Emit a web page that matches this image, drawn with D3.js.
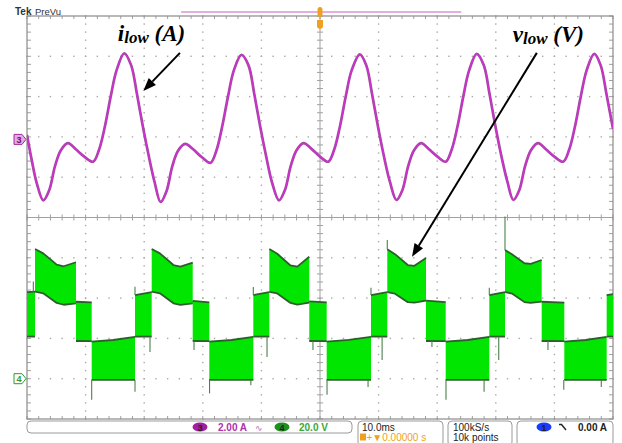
<!DOCTYPE html>
<html><head><meta charset="utf-8">
<script src="https://cdn.jsdelivr.net/npm/d3@7"></script>
<style>
html,body{margin:0;padding:0;background:#fff;}
svg{display:block;}
</style></head>
<body><svg id="c" width="622" height="443"></svg>
<script>
// ---------------- data (time in ms from left edge of screen) ----------------
// channel 3: low-side current i_low (A)
const iTime = [0, 0.8, 1.65,
  2.78, 3.78, 4.78, 5.78, 6.98, 8.28, 9.78, 11.28, 12.28, 13.28, 14.28, 15.28, 16.6, 17.78, 18.78, 19.78, 20.78, 21.78,
  22.8, 23.8, 24.8, 25.8, 27.0, 28.3, 29.8, 31.3, 32.3, 33.3, 34.3, 35.3, 36.6, 37.8, 38.8, 39.8, 40.8, 41.8,
  43.0, 44.0, 45.0, 46.0, 47.2, 48.5, 50.0, 51.4, 52.4, 53.4, 54.4, 55.4, 56.8, 57.9, 58.9, 59.9, 60.9, 61.95,
  63.05, 64.05, 65.05, 66.05, 67.25, 68.55, 70.05, 71.45, 72.45, 73.45, 74.45, 75.45, 76.75, 77.95, 78.95, 79.95, 80.95, 82.0,
  83.0, 84.0, 85.0, 86.0, 87.2, 88.5, 90.0, 91.5, 92.5, 93.5, 94.5, 95.5, 96.8, 97.9, 98.9, 100];
const iAmp = [0.1, -1.14, -2.28,
  -3.15, -2.65, -1.45, -0.66, -0.31, -0.6, -0.98, -1.23, -0.65, 0.5, 2.0, 3.3, 4.15, 3.55, 2.1, 0.5, -0.95, -2.25,
  -3.23, -2.7, -1.45, -0.68, -0.35, -0.6, -1.0, -1.29, -0.7, 0.5, 2.0, 3.3, 4.07, 3.55, 2.1, 0.5, -0.95, -2.25,
  -3.15, -2.65, -1.45, -0.66, -0.31, -0.58, -0.98, -1.23, -0.65, 0.52, 2.02, 3.3, 4.1, 3.55, 2.1, 0.5, -0.95, -2.25,
  -3.13, -2.65, -1.45, -0.66, -0.31, -0.6, -0.98, -1.23, -0.65, 0.5, 2.0, 3.3, 4.12, 3.55, 2.1, 0.5, -0.95, -2.25,
  -3.13, -2.65, -1.45, -0.66, -0.31, -0.6, -0.98, -1.23, -0.65, 0.5, 2.0, 3.3, 4.12, 3.55, 2.1, 0.4];

// channel 4: low-side voltage v_low (V) - PWM envelope: upper and lower switching levels
const vTime = [0, 1.37,
  1.37, 2.77, 5.07, 6.26, 8.36,  8.36, 11.04,  11.04, 14.7, 18.43,  18.43, 21.28,
  21.28, 22.68, 24.99, 26.18, 28.28,  28.28, 31.11,  31.11, 34.9, 38.62,  38.62, 41.35,
  41.35, 42.71, 44.96, 46.12, 48.17,  48.17, 51.14,  51.14, 54.9, 58.70,  58.70, 61.48,
  61.48, 62.80, 64.98, 66.11, 68.09,  68.09, 71.45,  71.45, 75.2, 78.89,  78.89, 81.57,
  81.57, 82.82, 84.89, 85.95, 87.83,  87.83, 91.69,  91.69, 95.3, 98.92,  98.92, 100];
const vHigh = [43.0, 43.2,
  64.4, 62.2, 56.6, 55.8, 57.8,  38.2, 37.9,  18.4, 19.2, 20.8,  41.5, 43.0,
  64.4, 62.2, 56.4, 55.6, 57.6,  38.6, 37.9,  18.4, 19.2, 20.8,  41.5, 43.0,
  64.4, 62.0, 56.2, 55.6, 60.5,  38.4, 37.9,  18.4, 19.3, 20.8,  41.5, 43.0,
  64.2, 61.8, 56.4, 56.0, 59.9,  38.7, 38.0,  18.4, 19.2, 20.8,  41.5, 43.0,
  63.9, 61.6, 57.3, 57.0, 58.9,  38.2, 37.8,  18.4, 19.2, 20.8,  41.5, 42.0];
const vLow = [20.9, 20.9,
  43.2, 42.4, 37.6, 36.7, 37.4,  18.7, 18.6,  -0.6, -0.6, -0.6,  20.9, 20.9,
  43.2, 42.4, 37.4, 36.6, 37.4,  18.7, 18.6,  -0.6, -0.6, -0.6,  20.9, 20.9,
  43.1, 42.3, 37.6, 36.8, 37.8,  18.7, 18.6,  -0.6, -0.6, -0.6,  20.9, 20.9,
  43.0, 42.2, 38.0, 37.8, 38.7,  18.7, 18.6,  -0.6, -0.6, -0.6,  20.9, 20.9,
  43.0, 42.2, 38.0, 37.6, 38.2,  18.7, 18.6,  -0.6, -0.6, -0.6,  20.9, 20.9];

// switching spikes on channel 4
const spikeTime = [1.08, 11.04, 18.43, 18.43, 20.99, 28.5, 31.15, 38.2, 38.62, 40.96, 48.8, 51.2, 58.2, 58.7, 60.6, 61.48, 69.1, 71.5, 78.0, 78.89, 80.5, 81.57, 88.9, 91.6, 98.0];
const spikeFrom = [43.2, -0.6, -0.6, 41.5, 20.9, 18.7, -0.6, -0.6, 41.5, 20.9, 18.7, -0.6, -0.6, 41.5, 20.9, 64.2, 18.7, -0.6, -0.6, 41.5, 20.9, 63.9, 18.7, -0.6, -0.6];
const spikeTo   = [48.3, -10.4, -6.5, 45.6, 13.3, 14.2, -7.3, -3.2, 45.5, 10.8, 14.2, -8.0, -4.1, 45.1, 9.3, 68.8, 15.7, -10.4, -6.5, 45.1, 9.3, 80.5, 14.2, -5.5, -4.1];

// scope settings / readouts
const ch3Scale = "2.00 A", ch4Scale = "20.0 V", timeDiv = "10.0ms", trigPos = "0.00000 s";
const sampleRate = "100kS/s", recordLen = "10k points", trigLevel = "0.00 A";
const ch3Offset = 2, ch4Offset = -4;   // divisions from screen centre
const ch3PerDiv = 2, ch4PerDiv = 20;   // A/div, V/div

// ---------------- layout ----------------
const svg = d3.select("#c");
const L = 27, T = 16, R = 613, B = 419;
const W = R - L, H = B - T;
const hDiv = 10, vDiv = 10;

const x = d3.scaleLinear().domain([0, 100]).range([L, R]);
const yI = d3.scaleLinear().domain([(-vDiv/2 - ch3Offset)*ch3PerDiv, (vDiv/2 - ch3Offset)*ch3PerDiv]).range([B, T]);
const yV = d3.scaleLinear().domain([(-vDiv/2 - ch4Offset)*ch4PerDiv, (vDiv/2 - ch4Offset)*ch4PerDiv]).range([B, T]);

svg.append("rect").attr("width",622).attr("height",443).attr("fill","#fff");

// ---------------- graticule ----------------
const g = svg.append("g");
const dotC = "#a9a9a9";
const xMinor = d3.range(0, 100.001, 2);
const yMinorPx = d3.range(0, vDiv*5+1).map(k => T + k*H/(vDiv*5));
d3.range(1, hDiv).filter(k => k !== hDiv/2).forEach(k => {
  const xx = x(k*10);
  yMinorPx.forEach(yy => g.append("rect").attr("x", xx-0.7).attr("y", yy-0.7).attr("width",1.4).attr("height",1.4).attr("fill",dotC));
});
d3.range(1, vDiv).filter(k => k !== vDiv/2).forEach(k => {
  const yy = T + k*H/vDiv;
  xMinor.forEach(t => g.append("rect").attr("x", x(t)-0.7).attr("y", yy-0.7).attr("width",1.4).attr("height",1.4).attr("fill",dotC));
});
const cx = x(50), cy = T + H/2;
g.append("line").attr("x1",L).attr("x2",R).attr("y1",cy).attr("y2",cy).attr("stroke","#a0a0a0").attr("stroke-width",1);
g.append("line").attr("x1",cx).attr("x2",cx).attr("y1",T).attr("y2",B).attr("stroke","#a0a0a0").attr("stroke-width",1);
xMinor.forEach(t => {
  g.append("line").attr("x1",x(t)).attr("x2",x(t)).attr("y1",cy-3).attr("y2",cy+3).attr("stroke","#a0a0a0");
  g.append("line").attr("x1",x(t)).attr("x2",x(t)).attr("y1",T).attr("y2",T+3).attr("stroke","#a0a0a0");
  g.append("line").attr("x1",x(t)).attr("x2",x(t)).attr("y1",B-3).attr("y2",B).attr("stroke","#a0a0a0");
});
yMinorPx.forEach(yy => {
  g.append("line").attr("x1",cx-3).attr("x2",cx+3).attr("y1",yy).attr("y2",yy).attr("stroke","#a0a0a0");
  g.append("line").attr("x1",L).attr("x2",L+4).attr("y1",yy).attr("y2",yy).attr("stroke","#a0a0a0");
  g.append("line").attr("x1",R-4).attr("x2",R).attr("y1",yy).attr("y2",yy).attr("stroke","#a0a0a0");
});
g.append("rect").attr("x",L).attr("y",T).attr("width",W).attr("height",H).attr("fill","none").attr("stroke","#8a8a8a").attr("stroke-width",1.2);

// ---------------- clip ----------------
svg.append("clipPath").attr("id","plot").append("rect").attr("x",L).attr("y",T).attr("width",W).attr("height",H);
const plot = svg.append("g").attr("clip-path","url(#plot)");

// ---------------- channel 4 (voltage) ----------------
const vData = vTime.map((t,i) => ({t, hi: vHigh[i], lo: vLow[i]}));
plot.append("path").datum(vData)
  .attr("d", d3.area().x(d => x(d.t)).y0(d => yV(d.lo)).y1(d => yV(d.hi)))
  .attr("fill", "#00e600");
const runs = []; { let cur = [];
  vData.forEach((d,i) => { if (i>0 && d.t === vData[i-1].t){ runs.push(cur); cur = []; } cur.push(d); });
  runs.push(cur); }
["hi","lo"].forEach(k => {
  runs.forEach(run => {
    plot.append("path").datum(run)
      .attr("d", d3.line().x(d => x(d.t)).y(d => yV(d[k])))
      .attr("fill","none").attr("stroke","#2c5f2c").attr("stroke-width",1.8).attr("stroke-linejoin","round");
  });
});
spikeTime.forEach((t,i) => {
  plot.append("line").attr("x1",x(t)).attr("x2",x(t)).attr("y1",yV(spikeFrom[i])).attr("y2",yV(spikeTo[i]))
    .attr("stroke","#4a804a").attr("stroke-width",1.1);
});

// ---------------- channel 3 (current) ----------------
const iData = iTime.map((t,i) => [t, iAmp[i]]);
const iLine = d3.line().x(d => x(d[0])).y(d => yI(d[1])).curve(d3.curveCatmullRom.alpha(0.5));
plot.append("path").datum(iData).attr("d", iLine).attr("fill","none").attr("stroke","#a04aa0").attr("stroke-width",2.7).attr("stroke-linejoin","round");
plot.append("path").datum(iData).attr("d", iLine).attr("fill","none").attr("stroke","#d22ed2").attr("stroke-width",1.3).attr("stroke-linejoin","round");

// ---------------- annotations ----------------
const notes = [
  {label:"i", sub:"low", unit:" (A)", t:15.5, y: yI(4.78), from:[26.1, yI(4.17)], to:[19.85, yI(2.28)]},
  {label:"v", sub:"low", unit:" (V)", t:82.9, y: yI(4.73), from:[87.0, yI(4.17)], to:[65.7, yV(60.5)]}
];
notes.forEach(n => {
  const tx = svg.append("text").attr("x", x(n.t)).attr("y", n.y)
    .attr("font-family","'Liberation Serif','DejaVu Serif',serif").attr("font-weight","bold").attr("font-style","italic").attr("font-size",23).attr("fill","#000");
  tx.append("tspan").text(n.label);
  tx.append("tspan").attr("font-size",17).attr("dy",2).text(n.sub);
  tx.append("tspan").attr("dy",-2).text(n.unit);
  const x1 = x(n.from[0]), y1 = n.from[1], x2 = x(n.to[0]), y2 = n.to[1];
  const ang = Math.atan2(y2-y1, x2-x1), hl = 13, hw = 5;
  const bx = x2 - hl*Math.cos(ang), by = y2 - hl*Math.sin(ang);
  svg.append("line").attr("x1",x1).attr("y1",y1).attr("x2",bx).attr("y2",by).attr("stroke","#000").attr("stroke-width",2);
  svg.append("path").attr("d", `M${x2},${y2}L${bx + hw*Math.sin(ang)},${by - hw*Math.cos(ang)}L${bx - hw*Math.sin(ang)},${by + hw*Math.cos(ang)}Z`).attr("fill","#000");
});

// ---------------- channel markers ----------------
function chMarker(yy, label, fill, stroke, txt){
  svg.append("path").attr("d", `M14,${yy-5}H22L26,${yy}L22,${yy+5}H14Z`).attr("fill",fill).attr("stroke",stroke).attr("stroke-width",1);
  svg.append("text").attr("x",19).attr("y",yy+3.5).attr("text-anchor","middle").attr("font-family","'Liberation Sans',Arial,sans-serif").attr("font-weight","bold").attr("font-size",9).attr("fill",txt).text(label);
}
chMarker(yI(0)+2.5, "3", "#e6a8e6", "#a02aa0", "#6a106a");
chMarker(yV(0), "4", "#ffffff", "#2e9a2e", "#2e9a2e");

// ---------------- top bar ----------------
svg.append("text").attr("x",15).attr("y",15).attr("font-family","'Liberation Sans',Arial,sans-serif").attr("font-weight","bold").attr("font-size",10).attr("fill","#333").text("Tek");
svg.append("text").attr("x",35).attr("y",15).attr("font-family","'Liberation Sans',Arial,sans-serif").attr("font-size",9.5).attr("fill","#333").text("PreVu");
svg.append("line").attr("x1",x(26.3)).attr("x2",x(74.1)).attr("y1",12).attr("y2",12).attr("stroke","#c860c8").attr("stroke-width",1.2);
svg.append("rect").attr("x",cx-2.5).attr("y",7).attr("width",5).attr("height",10).attr("rx",2.5).attr("fill","#f0a020");
svg.append("path").attr("d",`M${cx-3},20H${cx+3}V27Q${cx},31 ${cx-3},27Z`).attr("fill","#f0a020");

// ---------------- readout boxes ----------------
const sans = "'Liberation Sans',Arial,sans-serif";
function box(x0,x1,y0,y1){ svg.append("rect").attr("x",x0).attr("y",y0).attr("width",x1-x0).attr("height",y1-y0).attr("rx",4).attr("fill","none").attr("stroke","#9a9a9a").attr("stroke-width",1); }
box(27,352,421,433); box(358,443,421,446); box(448,512,421,446); box(517,613,421,446);
function oval(cxp, label, fill){
  svg.append("ellipse").attr("cx",cxp).attr("cy",427).attr("rx",7.5).attr("ry",4.6).attr("fill",fill);
  svg.append("text").attr("x",cxp).attr("y",430.5).attr("text-anchor","middle").attr("font-family",sans).attr("font-weight","bold").attr("font-size",9).attr("fill","#222").text(label);
}
oval(200,"3","#a020a0");
svg.append("text").attr("x",218).attr("y",431).attr("font-family",sans).attr("font-weight","bold").attr("font-size",10).attr("fill","#b030b0").text(ch3Scale);
svg.append("text").attr("x",255).attr("y",431).attr("font-family","'DejaVu Sans',sans-serif").attr("font-size",9).attr("fill","#c070c0").text("∿");
oval(282,"4","#1f8f1f");
svg.append("text").attr("x",299).attr("y",431).attr("font-family",sans).attr("font-weight","bold").attr("font-size",10).attr("fill","#38a838").text(ch4Scale);
svg.append("text").attr("x",362).attr("y",431).attr("font-family",sans).attr("font-size",10).attr("fill","#222").text(timeDiv);
svg.append("rect").attr("x",360).attr("y",433.5).attr("width",6).attr("height",7).attr("fill","#f0a020");
svg.append("text").attr("x",366.5).attr("y",441).attr("font-family",sans).attr("font-size",10).attr("fill","#f0a020").text("+▼" + trigPos);
svg.append("text").attr("x",453).attr("y",431).attr("font-family",sans).attr("font-size",10).attr("fill","#222").text(sampleRate);
svg.append("text").attr("x",453).attr("y",441).attr("font-family",sans).attr("font-size",10).attr("fill","#222").text(recordLen);
oval(544,"1","#1a3cff");
svg.append("path").attr("d","M559,424.5H561.5L566,430").attr("fill","none").attr("stroke","#222").attr("stroke-width",1.4);
svg.append("text").attr("x",578).attr("y",431).attr("font-family",sans).attr("font-weight","bold").attr("font-size",10).attr("fill","#222").text(trigLevel);
</script>
</body></html>
